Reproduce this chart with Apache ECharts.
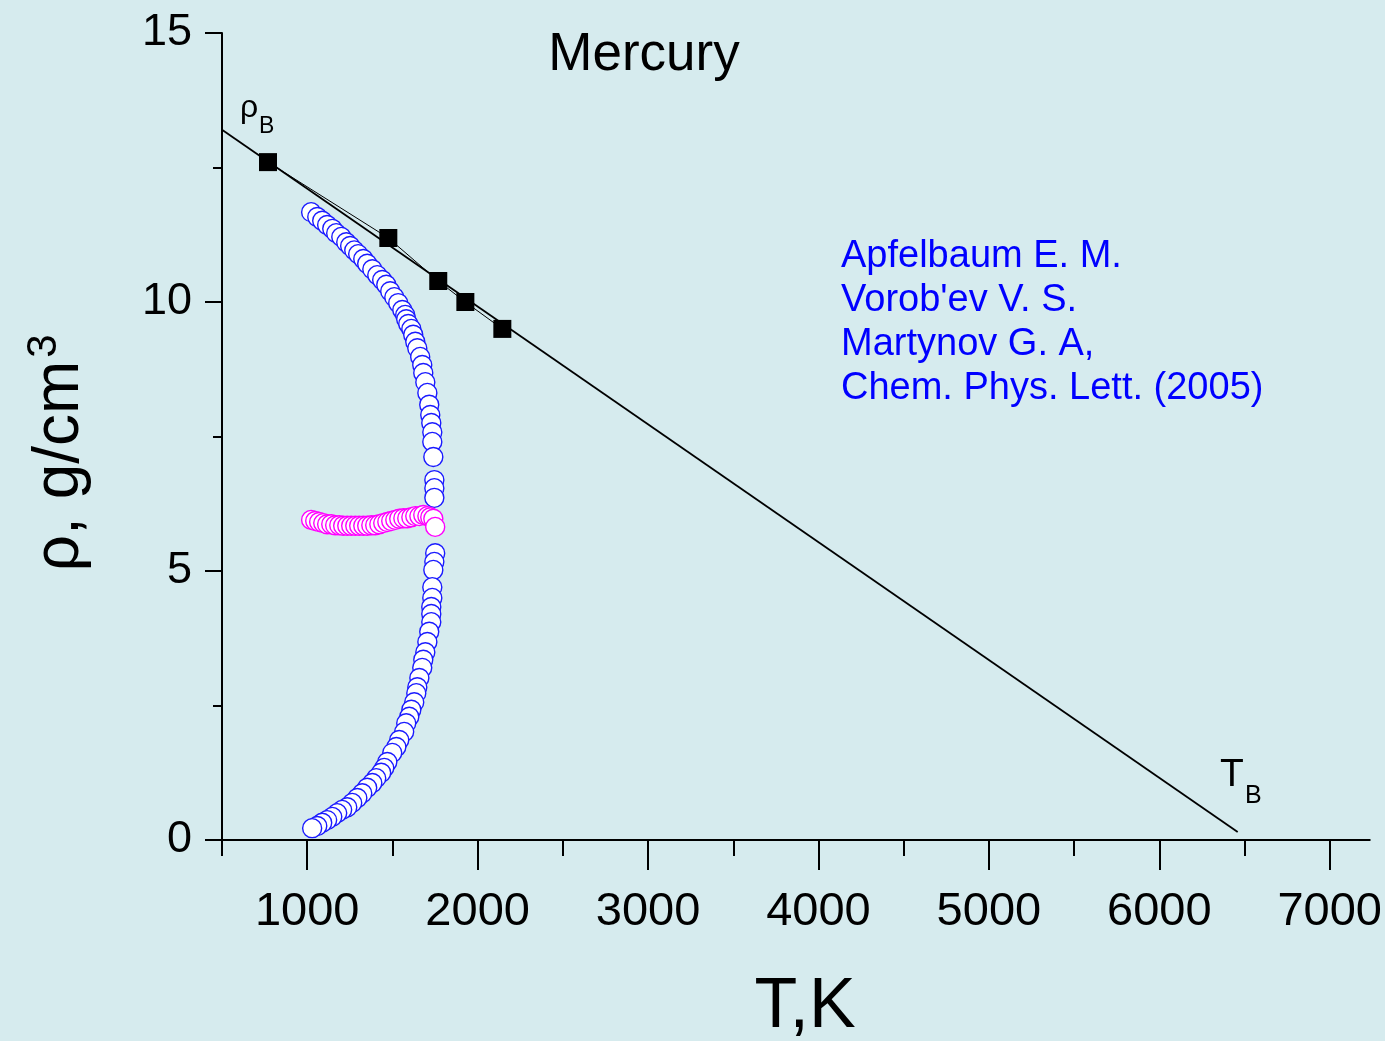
<!DOCTYPE html>
<html>
<head>
<meta charset="utf-8">
<script src="https://cdn.jsdelivr.net/npm/echarts@6/dist/echarts.min.js"></script>
<style>
html,body{margin:0;padding:0;background:#d6ebee;}
#c{width:1385px;height:1041px;}
</style>
</head>
<body>
<div id="c"></div>
<script>
// ---- data ----
const zenoT = [500, 6460];
const zenoRho = [13.2, 0.15];

const expT = [770, 1476, 1769, 1928, 2145];
const expRho = [12.60, 11.19, 10.39, 10.00, 9.50];

const upperT = [1023,1059,1088,1117,1147,1170,1200,1229,1252,1276,1299,1329,1352,1382,1411,1440,1464,1487,1511,1534,1558,1575,1581,1593,1611,1622,1634,1646,1663,1675,1681,1693,1705,1716,1722,1728,1734,1734,1740,1746,1746,1746];
const upperRho = [11.67,11.58,11.51,11.43,11.36,11.28,11.21,11.11,11.04,10.96,10.89,10.80,10.71,10.61,10.50,10.41,10.32,10.20,10.09,9.98,9.85,9.76,9.68,9.59,9.50,9.39,9.26,9.14,8.98,8.83,8.68,8.51,8.31,8.09,7.90,7.75,7.58,7.40,7.12,6.69,6.54,6.36];

const lowerT = [1751,1746,1740,1734,1734,1728,1728,1728,1716,1705,1693,1681,1675,1658,1646,1640,1628,1611,1599,1581,1569,1540,1523,1499,1470,1452,1434,1405,1382,1352,1323,1294,1264,1235,1205,1176,1147,1117,1088,1059,1029];
const lowerRho = [5.33,5.17,5.02,4.70,4.50,4.33,4.20,4.05,3.87,3.68,3.49,3.35,3.20,3.01,2.84,2.73,2.56,2.42,2.29,2.17,2.01,1.86,1.73,1.62,1.45,1.34,1.25,1.15,1.06,0.97,0.87,0.78,0.69,0.61,0.56,0.50,0.43,0.37,0.32,0.26,0.22];

const magT = [1023,1047,1070,1094,1117,1141,1164,1188,1211,1235,1258,1282,1305,1329,1352,1376,1399,1423,1446,1470,1493,1517,1540,1564,1587,1611,1634,1658,1681,1705,1722,1740,1751];
const magRho = [5.95,5.93,5.91,5.89,5.87,5.87,5.85,5.85,5.84,5.84,5.84,5.84,5.84,5.84,5.84,5.85,5.85,5.87,5.89,5.91,5.93,5.95,5.97,5.98,5.98,6.00,6.02,6.02,6.04,6.02,6.00,5.97,5.82];

const xMajorTicks = [1000, 2000, 3000, 4000, 5000, 6000, 7000];
const xMinorTicks = [500, 1500, 2500, 3500, 4500, 5500, 6500];
const yMajorTicks = [0, 5, 10, 15];
const yMinorTicks = [2.5, 7.5, 12.5];

const noteLines = ["Apfelbaum E. M.", "Vorob'ev V. S.", "Martynov G. A,", "Chem. Phys. Lett. (2005)"];

const zip = (a, b) => a.map((v, i) => [v, b[i]]);
const FONT = "'Liberation Sans', Arial, sans-serif";

const chart = echarts.init(document.getElementById('c'), null, {renderer: 'canvas'});

const xMin = 500, xMax = 7235, yMin = 0, yMax = 15;

const noteGraphics = noteLines.map((t, i) => ({
  type: 'text', x: 841, y: 257 + 44 * i,
  style: {text: t, fill: '#0000ff', font: '38px ' + FONT, align: 'left', verticalAlign: 'middle'}
}));

const plain = v => String(v);

const option = {
  backgroundColor: '#d6ebee',
  animation: false,
  grid: {left: 222, top: 33, right: 15, bottom: 201, containLabel: false},
  xAxis: [
    {
      type: 'value', min: xMin, max: xMax, position: 'bottom',
      axisLine: {show: true, onZero: false, lineStyle: {color: '#000', width: 2}},
      axisTick: {show: true, inside: false, length: 30, customValues: xMajorTicks, lineStyle: {color: '#000', width: 2}},
      axisLabel: {show: true, customValues: xMajorTicks, formatter: plain, margin: 49, color: '#000', fontSize: 47, fontFamily: FONT},
      splitLine: {show: false}
    },
    {
      type: 'value', min: xMin, max: xMax, position: 'bottom', offset: 0,
      axisLine: {show: false, onZero: false},
      axisTick: {show: true, inside: false, length: 16, customValues: xMinorTicks, lineStyle: {color: '#000', width: 2}},
      axisLabel: {show: false},
      splitLine: {show: false}
    }
  ],
  yAxis: [
    {
      type: 'value', min: yMin, max: yMax, position: 'left',
      axisLine: {show: true, onZero: false, lineStyle: {color: '#000', width: 2}},
      axisTick: {show: true, inside: false, length: 17, customValues: yMajorTicks, lineStyle: {color: '#000', width: 2}},
      axisLabel: {show: true, customValues: yMajorTicks, formatter: plain, margin: 30, color: '#000', fontSize: 45, fontFamily: FONT},
      splitLine: {show: false}
    },
    {
      type: 'value', min: yMin, max: yMax, position: 'left', offset: 0,
      axisLine: {show: false, onZero: false},
      axisTick: {show: true, inside: false, length: 9, customValues: yMinorTicks, lineStyle: {color: '#000', width: 2}},
      axisLabel: {show: false},
      splitLine: {show: false}
    }
  ],
  series: [
    {
      type: 'line', data: zip(zenoT, zenoRho), showSymbol: false, symbol: 'none',
      lineStyle: {color: '#000', width: 1.8}, clip: true, z: 2
    },
    {
      type: 'line', data: zip(expT, expRho), symbol: 'rect', symbolSize: 18,
      lineStyle: {color: '#000', width: 1}, itemStyle: {color: '#000'}, z: 3
    },
    {
      type: 'scatter', data: zip(upperT, upperRho), symbol: 'circle', symbolSize: 19,
      itemStyle: {color: '#ffffff', borderColor: '#1a1aff', borderWidth: 1.4, opacity: 1}, z: 4
    },
    {
      type: 'scatter', data: zip(lowerT, lowerRho), symbol: 'circle', symbolSize: 19,
      itemStyle: {color: '#ffffff', borderColor: '#1a1aff', borderWidth: 1.4, opacity: 1}, z: 4
    },
    {
      type: 'scatter', data: zip(magT, magRho), symbol: 'circle', symbolSize: 19,
      itemStyle: {color: '#ffffff', borderColor: '#ff00ff', borderWidth: 1.4, opacity: 1}, z: 5
    }
  ],
  graphic: [
    {type: 'text', x: 644, y: 55, style: {text: 'Mercury', fill: '#000', font: '53px ' + FONT, align: 'center', verticalAlign: 'middle'}},
    {type: 'text', x: 240, y: 108, style: {text: 'ρ', fill: '#000', font: '32px ' + FONT, align: 'left', verticalAlign: 'middle'}},
    {type: 'text', x: 259, y: 127, style: {text: 'B', fill: '#000', font: '23px ' + FONT, align: 'left', verticalAlign: 'middle'}},
    {type: 'text', x: 1220, y: 775, style: {text: 'T', fill: '#000', font: '39px ' + FONT, align: 'left', verticalAlign: 'middle'}},
    {type: 'text', x: 1245, y: 796, style: {text: 'B', fill: '#000', font: '25px ' + FONT, align: 'left', verticalAlign: 'middle'}},
    {type: 'text', x: 805, y: 1008, style: {text: 'T,K', fill: '#000', font: '70px ' + FONT, align: 'center', verticalAlign: 'middle'}},
    {type: 'text', x: 60, y: 466, rotation: Math.PI / 2,
      style: {text: 'ρ, g/cm', fill: '#000', font: '64px ' + FONT, align: 'center', verticalAlign: 'middle'}},
    {type: 'text', x: 44, y: 346, rotation: Math.PI / 2,
      style: {text: '3', fill: '#000', font: '42px ' + FONT, align: 'center', verticalAlign: 'middle'}}
  ].concat(noteGraphics)
};
chart.setOption(option);
</script>
</body>
</html>
